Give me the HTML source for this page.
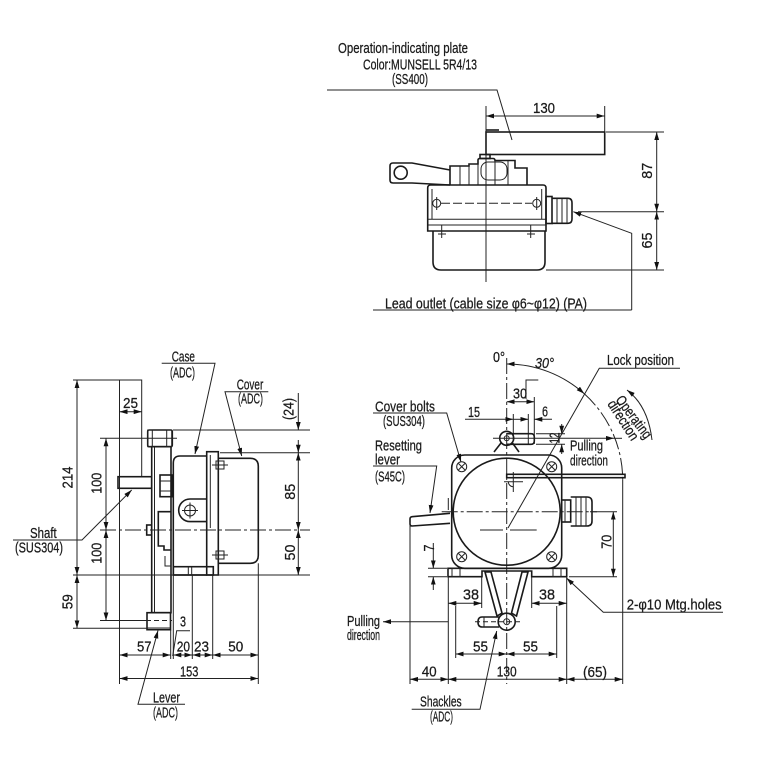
<!DOCTYPE html>
<html><head><meta charset="utf-8"><style>
html,body{margin:0;padding:0;background:#fff;}
svg{display:block;}
text{font-family:"Liberation Sans Narrow","Liberation Sans",sans-serif;font-size:14.5px;fill:#1a1a1a;stroke:#1a1a1a;stroke-width:0.25;}
.d{stroke:#222;stroke-width:1;fill:none;}
.o{stroke:#1a1a1a;stroke-width:1.6;fill:none;}
.c{stroke:#222;stroke-width:1;fill:none;stroke-dasharray:16 3 3 3;}
.h{stroke:#222;stroke-width:1;fill:none;stroke-dasharray:5 3;}
</style></head><body>
<svg width="767" height="767" viewBox="0 0 767 767" xmlns="http://www.w3.org/2000/svg">
<defs>
<marker id="a" viewBox="0 0 10 6" refX="10" refY="3" markerWidth="8" markerHeight="5" markerUnits="userSpaceOnUse" orient="auto-start-reverse"><path d="M0,0L10,3L0,6z" fill="#111"/></marker>
</defs>
<rect width="767" height="767" fill="#fff"/>

<!-- ================= TOP VIEW ================= -->
<text x="338" y="53" textLength="130" lengthAdjust="spacingAndGlyphs">Operation-indicating plate</text>
<text x="363" y="69.5" textLength="114" lengthAdjust="spacingAndGlyphs">Color:MUNSELL 5R4/13</text>
<text x="392" y="84" textLength="36" lengthAdjust="spacingAndGlyphs">(SS400)</text>
<polyline class="d" points="327,90 497,90 512,140"/>

<line class="d" x1="486" y1="116" x2="604.7" y2="116" marker-start="url(#a)" marker-end="url(#a)"/>
<line class="d" x1="604.7" y1="106" x2="604.7" y2="132"/>
<text x="533" y="113" textLength="22" lengthAdjust="spacingAndGlyphs">130</text>
<line class="d" x1="486" y1="106" x2="486" y2="282"/>

<rect class="o" x="486" y="132" width="118.7" height="22.5"/>
<line class="o" x1="486" y1="130" x2="499" y2="130"/>
<rect class="o" x="480" y="154.5" width="10" height="4"/>

<path class="o" d="M450,170 L412,163 L393,163 Q390,163 390,166 L390,180 Q390,183 393,183 L412,183 L450,185"/>
<circle class="o" cx="400.7" cy="172.7" r="6.5"/>
<path class="o" d="M450,185 L450,166 L469,166 L469,164 L478,164 L478,160 Q478,158.5 480,158.5 L493,158.5 Q495,158.5 495,160.5 L515,160.5 L515,168 L527,168 L527,185"/>
<line class="d" x1="460" y1="166" x2="460" y2="185"/>
<line class="d" x1="469" y1="164" x2="469" y2="185"/>
<line class="d" x1="478" y1="164" x2="478" y2="185"/>
<line class="d" x1="495" y1="160.5" x2="495" y2="185"/>
<line class="d" x1="508" y1="160.5" x2="508" y2="185"/>
<rect class="d" x="481" y="162" width="26" height="18" rx="7"/>

<path class="o" d="M427.7,231 L427.7,188 Q427.7,185 430.7,185 L543,185 Q546,185 546,188 L546,231 Z"/>
<line class="d" x1="427.7" y1="219.3" x2="546" y2="219.3"/>
<line class="d" x1="427.7" y1="225" x2="546" y2="225"/>
<line class="d" x1="432" y1="189" x2="432" y2="219"/>
<line class="d" x1="541.7" y1="189" x2="541.7" y2="219"/>
<circle class="d" cx="436.7" cy="203.3" r="4"/>
<circle class="d" cx="536.7" cy="203.3" r="4"/>
<line class="d" x1="436.7" y1="197" x2="436.7" y2="210"/>
<line class="d" x1="536.7" y1="197" x2="536.7" y2="210"/>
<line class="d" x1="441" y1="203.3" x2="532" y2="203.3" stroke-dasharray="9 3"/>

<path class="o" d="M433,231 L433,262 Q433,270 441,270 L537,270 Q545,270 545,262 L545,231"/>
<line class="d" x1="441.7" y1="225" x2="441.7" y2="238"/>
<line class="d" x1="438" y1="234" x2="446" y2="234"/>
<line class="d" x1="530.7" y1="225" x2="530.7" y2="238"/>
<line class="d" x1="527" y1="234" x2="535" y2="234"/>

<rect class="o" x="546" y="196.5" width="6" height="27"/>
<path class="o" d="M552,198.3 L568,198.3 Q572,198.3 572,203 L572,219 Q572,223.3 568,223.3 L552,223.3"/>
<line class="d" x1="557" y1="198.3" x2="557" y2="223.3"/>
<line class="d" x1="562" y1="198.3" x2="562" y2="223.3"/>
<line class="d" x1="567" y1="198.3" x2="567" y2="223.3"/>

<polyline class="d" points="631.7,310 631.7,233.3 573.3,211.7" marker-end="url(#a)"/>
<line class="d" x1="373" y1="310" x2="631.7" y2="310"/>
<text x="385" y="308.5" textLength="202" lengthAdjust="spacingAndGlyphs">Lead outlet (cable size φ6~φ12) (PA)</text>

<line class="d" x1="656.7" y1="132" x2="656.7" y2="211.7" marker-start="url(#a)" marker-end="url(#a)"/>
<line class="d" x1="656.7" y1="211.7" x2="656.7" y2="270" marker-start="url(#a)" marker-end="url(#a)"/>
<line class="d" x1="606" y1="132" x2="664" y2="132"/>
<line class="d" x1="578" y1="211.7" x2="664" y2="211.7"/>
<line class="d" x1="546" y1="270" x2="664" y2="270"/>
<text transform="translate(646.7,170.8) rotate(-90)" x="0" y="5.2" text-anchor="middle" textLength="16" lengthAdjust="spacingAndGlyphs">87</text>
<text transform="translate(646.7,240.5) rotate(-90)" x="0" y="5.2" text-anchor="middle" textLength="16" lengthAdjust="spacingAndGlyphs">65</text>

<!-- ================= LEFT (SIDE) VIEW ================= -->
<text x="171.7" y="361.5" textLength="23.3" lengthAdjust="spacingAndGlyphs">Case</text>
<text x="170" y="377.5" textLength="25" lengthAdjust="spacingAndGlyphs">(ADC)</text>
<polyline class="d" points="161.7,363.3 215,363.3 195,454" marker-end="url(#a)"/>
<text x="236.7" y="389.5" textLength="26.6" lengthAdjust="spacingAndGlyphs">Cover</text>
<text x="238" y="403.5" textLength="25" lengthAdjust="spacingAndGlyphs">(ADC)</text>
<polyline class="d" points="268.3,391.7 225,391.7 241.7,456" marker-end="url(#a)"/>

<polyline class="d" points="119.5,684 119.5,380 141.7,380 141.7,476"/>
<line class="d" x1="73" y1="380" x2="119.5" y2="380"/>
<line class="d" x1="119.5" y1="411.7" x2="141.7" y2="411.7" marker-start="url(#a)" marker-end="url(#a)"/>
<text x="123" y="408" textLength="15" lengthAdjust="spacingAndGlyphs">25</text>

<rect class="o" x="118" y="476.7" width="33.7" height="11.6"/>
<rect class="o" x="151.7" y="446.7" width="19.3" height="166"/>
<line class="d" x1="154.5" y1="447" x2="154.5" y2="612"/>
<rect class="o" x="147.7" y="430" width="24.6" height="16.7" rx="1.5"/>
<rect class="d" x="147.7" y="430" width="4.6" height="16.7"/>
<rect class="d" x="166.7" y="430" width="5" height="16.7"/>
<rect class="o" x="147" y="612.7" width="23.5" height="17"/>
<line class="d" x1="147" y1="628" x2="170.5" y2="628"/>
<rect class="o" x="160" y="475" width="11.7" height="21.7"/>
<line class="d" x1="160" y1="481" x2="171.7" y2="481"/>
<line class="d" x1="160" y1="491" x2="171.7" y2="491"/>
<path class="o" d="M171.5,511.7 L158.3,511.7 L158.3,546 L164,546 L164,550 L171.5,550"/>
<path class="d" d="M165,556 L165,566 L171.5,566"/>
<rect class="o" x="146.7" y="525" width="5" height="10"/>

<path class="o" d="M206.7,456 L180,456 Q173.3,456 173.3,463 L173.3,575 L206.7,575"/>
<rect class="o" x="206.7" y="451.7" width="11.6" height="123.3"/>
<line class="d" x1="210.3" y1="455" x2="210.3" y2="528"/>
<path class="o" d="M218.3,458.3 L250.3,458.3 Q258.3,458.3 258.3,466.3 L258.3,555.3 Q258.3,563.3 250.3,563.3 L218.3,563.3"/>
<rect class="d" x="216" y="461" width="8" height="8"/>
<line class="d" x1="212" y1="465" x2="228" y2="465"/>
<rect class="d" x="216" y="551" width="8" height="8"/>
<line class="d" x1="212" y1="555" x2="228" y2="555"/>
<path class="o" d="M206.7,499 L190,499 A9.8,9.8 0 0 0 190,521.6 L206.7,521.6"/>
<circle class="d" cx="190" cy="510.5" r="5.5"/>
<line class="d" x1="182" y1="510.5" x2="198" y2="510.5"/>
<line class="d" x1="190" y1="502.5" x2="190" y2="518.5"/>
<rect class="o" x="173.3" y="566.7" width="40" height="8.3"/>
<line class="d" x1="188.3" y1="566.7" x2="188.3" y2="575"/>
<line class="d" x1="191.7" y1="566.7" x2="191.7" y2="575"/>

<line class="c" x1="100" y1="530" x2="310" y2="530"/>
<line class="d" x1="100" y1="438.3" x2="177" y2="438.3"/>
<line class="d" x1="100" y1="620.5" x2="146" y2="620.5"/>
<line class="h" x1="146" y1="620.5" x2="172" y2="620.5"/>
<line class="d" x1="73" y1="628.3" x2="147" y2="628.3"/>
<line class="d" x1="73" y1="575" x2="310" y2="575"/>
<line class="d" x1="173" y1="430" x2="310" y2="430"/>
<line class="d" x1="220" y1="452.7" x2="310" y2="452.7"/>

<line class="d" x1="77" y1="380" x2="77" y2="575" marker-start="url(#a)" marker-end="url(#a)"/>
<line class="d" x1="77" y1="575" x2="77" y2="628.3" marker-start="url(#a)" marker-end="url(#a)"/>
<text transform="translate(67.5,477.5) rotate(-90)" x="0" y="5.2" text-anchor="middle" textLength="22" lengthAdjust="spacingAndGlyphs">214</text>
<text transform="translate(67.5,601.7) rotate(-90)" x="0" y="5.2" text-anchor="middle" textLength="15" lengthAdjust="spacingAndGlyphs">59</text>
<line class="d" x1="106" y1="438.3" x2="106" y2="530" marker-start="url(#a)" marker-end="url(#a)"/>
<line class="d" x1="106" y1="530" x2="106" y2="620.5" marker-start="url(#a)" marker-end="url(#a)"/>
<text transform="translate(96.5,483.3) rotate(-90)" x="0" y="5.2" text-anchor="middle" textLength="21" lengthAdjust="spacingAndGlyphs">100</text>
<text transform="translate(96.5,553.3) rotate(-90)" x="0" y="5.2" text-anchor="middle" textLength="21" lengthAdjust="spacingAndGlyphs">100</text>

<line class="d" x1="298.3" y1="393" x2="298.3" y2="430" marker-end="url(#a)"/>
<line class="d" x1="298.3" y1="452.7" x2="298.3" y2="530" marker-start="url(#a)" marker-end="url(#a)"/>
<line class="d" x1="298.3" y1="530" x2="298.3" y2="575" marker-start="url(#a)" marker-end="url(#a)"/>
<line class="d" x1="298.3" y1="440" x2="298.3" y2="452.7" marker-end="url(#a)"/>
<text transform="translate(288.3,409) rotate(-90)" x="0" y="5.2" text-anchor="middle" textLength="22" lengthAdjust="spacingAndGlyphs">(24)</text>
<text transform="translate(290,491.7) rotate(-90)" x="0" y="5.2" text-anchor="middle" textLength="16" lengthAdjust="spacingAndGlyphs">85</text>
<text transform="translate(290,552.5) rotate(-90)" x="0" y="5.2" text-anchor="middle" textLength="16" lengthAdjust="spacingAndGlyphs">50</text>

<text x="30" y="538" textLength="26.7" lengthAdjust="spacingAndGlyphs">Shaft</text>
<text x="15" y="552.5" textLength="48" lengthAdjust="spacingAndGlyphs">(SUS304)</text>
<polyline class="d" points="13,540 82,540 131.7,490" marker-end="url(#a)"/>

<line class="d" x1="170.7" y1="630" x2="170.7" y2="659"/>
<line class="d" x1="173.3" y1="575" x2="173.3" y2="659"/>
<line class="d" x1="192.3" y1="575" x2="192.3" y2="659"/>
<line class="d" x1="212.7" y1="575" x2="212.7" y2="659"/>
<line class="d" x1="258.3" y1="563.3" x2="258.3" y2="684"/>
<line class="d" x1="119.5" y1="655" x2="170.7" y2="655" marker-start="url(#a)" marker-end="url(#a)"/>
<line class="d" x1="173.3" y1="655" x2="192.3" y2="655" marker-start="url(#a)" marker-end="url(#a)"/>
<line class="d" x1="192.3" y1="655" x2="212.7" y2="655" marker-start="url(#a)" marker-end="url(#a)"/>
<line class="d" x1="212.7" y1="655" x2="258.3" y2="655" marker-start="url(#a)" marker-end="url(#a)"/>
<line class="d" x1="119.5" y1="678.5" x2="258.3" y2="678.5" marker-start="url(#a)" marker-end="url(#a)"/>
<polyline class="d" points="190,630.7 176.7,630.7 172.7,656"/>
<text x="137" y="651.5" textLength="14.5" lengthAdjust="spacingAndGlyphs">57</text>
<text x="180" y="626.7" textLength="6" lengthAdjust="spacingAndGlyphs">3</text>
<text x="176.7" y="651.5" textLength="13.3" lengthAdjust="spacingAndGlyphs">20</text>
<text x="194" y="651.5" textLength="15" lengthAdjust="spacingAndGlyphs">23</text>
<text x="228.3" y="651.5" textLength="15" lengthAdjust="spacingAndGlyphs">50</text>
<text x="180" y="676.5" textLength="18.3" lengthAdjust="spacingAndGlyphs">153</text>
<text x="153" y="702.5" textLength="27" lengthAdjust="spacingAndGlyphs">Lever</text>
<text x="153" y="717.5" textLength="25" lengthAdjust="spacingAndGlyphs">(ADC)</text>
<polyline class="d" points="185,704.3 138,704.3 158,630.5" marker-end="url(#a)"/>

<!-- ================= RIGHT (FRONT) VIEW ================= -->
<text x="493" y="362" textLength="12" lengthAdjust="spacingAndGlyphs">0°</text>
<text x="535" y="368" textLength="19" lengthAdjust="spacingAndGlyphs" font-style="italic">30°</text>
<text x="607" y="365" textLength="67" lengthAdjust="spacingAndGlyphs">Lock position</text>
<polyline class="d" points="680,368.3 599.3,368.3 508,528"/>

<line class="c" x1="506.7" y1="358" x2="506.7" y2="684"/>
<path class="d" d="M506.7,364 A116,116 0 0 1 584.3,393.8" marker-start="url(#a)" marker-end="url(#a)"/>
<path class="c" d="M584.3,393.8 A116,116 0 0 1 622.7,480"/>
<line class="d" x1="622.7" y1="480" x2="622.7" y2="684"/>

<text transform="translate(615,400) rotate(53)" x="0" y="0" font-size="13" textLength="50" lengthAdjust="spacingAndGlyphs">Operating</text>
<text transform="translate(607,404) rotate(57)" x="0" y="0" font-size="13" textLength="45" lengthAdjust="spacingAndGlyphs">direction</text>
<path class="d" d="M652,440 Q648,406 627,390" marker-end="url(#a)"/>

<polyline class="d" points="526,399 526,380 538.3,380"/>
<line class="d" x1="506.7" y1="401.7" x2="534.3" y2="401.7" marker-start="url(#a)" marker-end="url(#a)"/>
<line class="d" x1="534.3" y1="397" x2="534.3" y2="444"/>
<text x="513" y="398.5" textLength="14" lengthAdjust="spacingAndGlyphs">30</text>

<line class="d" x1="465" y1="419.3" x2="513.3" y2="419.3" marker-end="url(#a)"/>
<line class="d" x1="552" y1="419.3" x2="534.3" y2="419.3" marker-end="url(#a)"/>
<line class="d" x1="513.3" y1="419.3" x2="528.3" y2="419.3" marker-end="url(#a)"/>
<line class="d" x1="513.3" y1="414" x2="513.3" y2="440"/>
<line class="d" x1="528.3" y1="414" x2="528.3" y2="444"/>
<text x="468" y="417" textLength="12" lengthAdjust="spacingAndGlyphs">15</text>
<text x="542" y="416.5" textLength="6" lengthAdjust="spacingAndGlyphs">6</text>

<path class="o" d="M494,452 L501,443"/>
<path class="o" d="M519,452 L512.5,443"/>
<path class="o" d="M506.7,433.7 L531,433.7 Q534.3,433.7 534.3,437 L534.3,441 Q534.3,444.3 531,444.3 L506.7,444.3"/>
<circle class="o" cx="506.7" cy="438.3" r="7" fill="#fff"/>
<circle class="d" cx="506.7" cy="438.3" r="2.5"/>
<line class="d" x1="493" y1="438.3" x2="614" y2="438.3" marker-end="url(#a)"/>
<line class="d" x1="614" y1="438.3" x2="622" y2="438.3"/>
<line class="d" x1="536" y1="433.7" x2="565" y2="433.7"/>
<line class="d" x1="536" y1="444.3" x2="565" y2="444.3"/>
<line class="d" x1="561.7" y1="424" x2="561.7" y2="433.7" marker-end="url(#a)"/>
<line class="d" x1="561.7" y1="454" x2="561.7" y2="444.3" marker-end="url(#a)"/>
<text transform="translate(554.5,438) rotate(-90)" x="0" y="4.8" text-anchor="middle" textLength="11" lengthAdjust="spacingAndGlyphs">12</text>
<text x="570" y="450.5" textLength="33" lengthAdjust="spacingAndGlyphs">Pulling</text>
<text x="570" y="465.5" textLength="38" lengthAdjust="spacingAndGlyphs">direction</text>

<rect class="o" x="451.7" y="455" width="110" height="113.3" rx="13"/>
<circle class="o" cx="506.7" cy="511.7" r="53.5"/>
<g class="d">
<circle cx="461.7" cy="466.7" r="5"/><circle cx="551.7" cy="466.7" r="5"/>
<circle cx="461.7" cy="556.7" r="5"/><circle cx="551.7" cy="556.7" r="5"/>
<path d="M458.5,463.5l6.4,6.4M464.9,463.5l-6.4,6.4M548.5,463.5l6.4,6.4M554.9,463.5l-6.4,6.4M458.5,553.5l6.4,6.4M464.9,553.5l-6.4,6.4M548.5,553.5l6.4,6.4M554.9,553.5l-6.4,6.4"/>
</g>
<text x="375" y="411.5" textLength="60" lengthAdjust="spacingAndGlyphs">Cover bolts</text>
<text x="383" y="426" textLength="42" lengthAdjust="spacingAndGlyphs">(SUS304)</text>
<polyline class="d" points="373,413 446.7,413 461,462" marker-end="url(#a)"/>

<rect class="o" x="506.7" y="474.3" width="118.3" height="3.4"/>
<line class="d" x1="513.3" y1="472" x2="513.3" y2="492"/>
<line class="d" x1="504" y1="481.7" x2="523" y2="481.7"/>
<path class="d" d="M508.3,481.7 A5,5 0 0 0 513.3,486.7"/>

<line class="c" x1="441.7" y1="511.7" x2="597" y2="511.7"/>
<line class="d" x1="480" y1="530" x2="503" y2="530"/>
<line class="d" x1="510" y1="530" x2="536.7" y2="530"/>

<path class="o" d="M450,513.3 L412,516.7 Q410,517 410,519 L410,524 Q410,526 412,526 L450,523.3"/>
<line class="d" x1="448.3" y1="498" x2="448.3" y2="510"/>
<text x="375" y="450.5" textLength="47" lengthAdjust="spacingAndGlyphs">Resetting</text>
<text x="375" y="464.5" textLength="25" lengthAdjust="spacingAndGlyphs">lever</text>
<text x="375" y="481.5" textLength="30" lengthAdjust="spacingAndGlyphs">(S45C)</text>
<polyline class="d" points="373,466 436.7,466 430,513" marker-end="url(#a)"/>

<rect class="o" x="561.7" y="500" width="9" height="22"/>
<line class="d" x1="565" y1="500" x2="565" y2="522"/>
<path class="o" d="M570.7,497 L587,497 Q592,497 592,502 L592,521 Q592,526 587,526 L570.7,526"/>
<line class="d" x1="576" y1="497" x2="576" y2="526"/>
<line class="d" x1="581" y1="497" x2="581" y2="526"/>
<line class="d" x1="586" y1="497" x2="586" y2="526"/>

<path class="o" d="M448,568.3 L448,576.7 L482,576.7 L482,571 L531.7,571 L531.7,576.7 L566.7,576.7 L566.7,568.3 Z"/>
<rect class="d" x="452" y="568.3" width="8" height="8.4"/>
<rect class="d" x="553" y="568.3" width="8" height="8.4"/>
<path class="o" d="M485,572 L491,572 L502,613 L497,616 Z"/>
<path class="o" d="M522,572 L528,572 L516.5,616 L511.5,613 Z"/>
<path class="o" d="M499,617 L482,617 Q478,617 478,622 Q478,627 482,627 L499,627"/>
<line class="d" x1="484" y1="617" x2="484" y2="627"/>
<circle class="o" cx="506.7" cy="621.7" r="8.5" fill="#fff"/>
<circle class="d" cx="506.7" cy="621.7" r="3"/>
<line class="h" x1="475" y1="621.7" x2="523" y2="621.7"/>

<line class="d" x1="428" y1="568.3" x2="447" y2="568.3"/>
<line class="d" x1="428" y1="576.7" x2="447" y2="576.7"/>
<line class="d" x1="433.3" y1="543" x2="433.3" y2="568.3" marker-end="url(#a)"/>
<line class="d" x1="433.3" y1="590" x2="433.3" y2="576.7" marker-end="url(#a)"/>
<text transform="translate(429,548) rotate(-90)" x="0" y="4.8" text-anchor="middle" textLength="7" lengthAdjust="spacingAndGlyphs">7</text>

<line class="d" x1="590" y1="511.7" x2="617" y2="511.7"/>
<line class="d" x1="569" y1="576.7" x2="617" y2="576.7"/>
<line class="d" x1="613.3" y1="511.7" x2="613.3" y2="576.7" marker-start="url(#a)" marker-end="url(#a)"/>
<text transform="translate(606.7,541.7) rotate(-90)" x="0" y="4.8" text-anchor="middle" textLength="14" lengthAdjust="spacingAndGlyphs">70</text>

<line class="d" x1="448.3" y1="577" x2="448.3" y2="684"/>
<line class="d" x1="481.7" y1="577" x2="481.7" y2="608"/>
<line class="d" x1="531.7" y1="577" x2="531.7" y2="608"/>
<line class="d" x1="566.7" y1="577" x2="566.7" y2="684"/>
<line class="d" x1="410" y1="522" x2="410" y2="684"/>
<line class="d" x1="455.7" y1="606" x2="455.7" y2="658"/>
<line class="d" x1="556.7" y1="606" x2="556.7" y2="658"/>
<line class="d" x1="448.3" y1="603.3" x2="481.7" y2="603.3" marker-start="url(#a)" marker-end="url(#a)"/>
<line class="d" x1="531.7" y1="603.3" x2="566.7" y2="603.3" marker-start="url(#a)" marker-end="url(#a)"/>
<text x="463" y="599.5" textLength="16" lengthAdjust="spacingAndGlyphs">38</text>
<text x="539" y="599.5" textLength="16" lengthAdjust="spacingAndGlyphs">38</text>

<text x="626.7" y="609.5" textLength="95" lengthAdjust="spacingAndGlyphs">2-φ10 Mtg.holes</text>
<polyline class="d" points="723,612.3 603.3,612.3 566.5,578" marker-end="url(#a)"/>

<text x="347" y="626" textLength="33" lengthAdjust="spacingAndGlyphs">Pulling</text>
<text x="347" y="640" textLength="33" lengthAdjust="spacingAndGlyphs">direction</text>
<line class="d" x1="448" y1="621.7" x2="383" y2="621.7" marker-end="url(#a)"/>

<line class="d" x1="455.7" y1="654" x2="506.7" y2="654" marker-start="url(#a)" marker-end="url(#a)"/>
<line class="d" x1="506.7" y1="654" x2="556.7" y2="654" marker-start="url(#a)" marker-end="url(#a)"/>
<text x="473" y="651.5" textLength="15" lengthAdjust="spacingAndGlyphs">55</text>
<text x="523" y="651.5" textLength="15" lengthAdjust="spacingAndGlyphs">55</text>

<line class="d" x1="410" y1="679.3" x2="448.3" y2="679.3" marker-start="url(#a)" marker-end="url(#a)"/>
<line class="d" x1="448.3" y1="679.3" x2="566.7" y2="679.3" marker-start="url(#a)" marker-end="url(#a)"/>
<line class="d" x1="566.7" y1="679.3" x2="622.7" y2="679.3" marker-start="url(#a)" marker-end="url(#a)"/>
<text x="421.7" y="676.5" textLength="15" lengthAdjust="spacingAndGlyphs">40</text>
<text x="496.7" y="676.5" textLength="20" lengthAdjust="spacingAndGlyphs">130</text>
<text x="583" y="677" textLength="24" lengthAdjust="spacingAndGlyphs">(65)</text>

<text x="420" y="706.5" textLength="41.7" lengthAdjust="spacingAndGlyphs">Shackles</text>
<text x="430" y="721.5" textLength="23" lengthAdjust="spacingAndGlyphs">(ADC)</text>
<polyline class="d" points="411.7,709.3 480,709.3 496.7,631" marker-end="url(#a)"/>
</svg>
</body></html>
